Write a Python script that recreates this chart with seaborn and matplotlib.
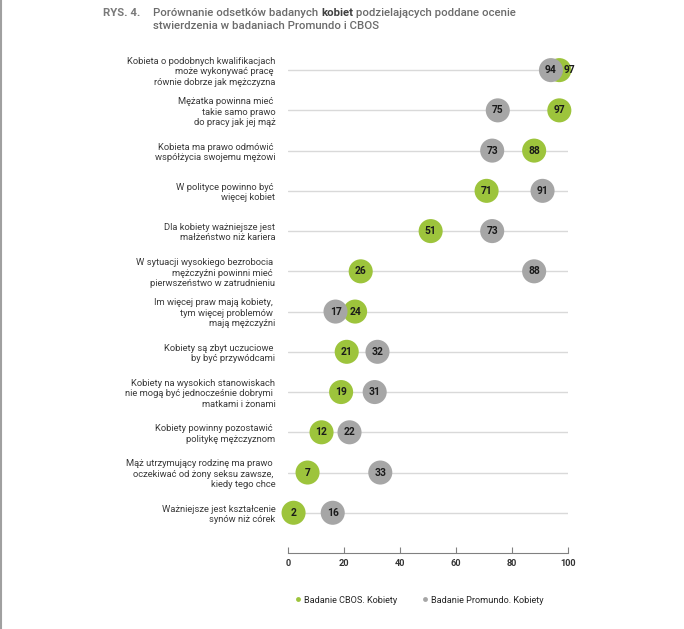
import matplotlib
matplotlib.use("Agg")
import matplotlib.pyplot as plt
import seaborn as sns
import pandas as pd
from matplotlib.lines import Line2D

statements = [
    "Kobieta o podobnych kwalifikacjach\nmoże wykonywać pracę \nrównie dobrze jak mężczyzna",
    "Mężatka powinna mieć \ntakie samo prawo\ndo pracy jak jej mąż",
    "Kobieta ma prawo odmówić \nwspółżycia swojemu mężowi",
    "W polityce powinno być \nwięcej kobiet",
    "Dla kobiety ważniejsze jest\nmałżeństwo niż kariera",
    "W sytuacji wysokiego bezrobocia \nmężczyźni powinni mieć \npierwszeństwo w zatrudnieniu",
    "Im więcej praw mają kobiety, \ntym więcej problemów \nmają mężczyźni",
    "Kobiety są zbyt uczuciowe \nby być przywódcami",
    "Kobiety na wysokich stanowiskach\nnie mogą być jednocześnie dobrymi \nmatkami i żonami",
    "Kobiety powinny pozostawić \npolitykę mężczyznom",
    "Mąż utrzymujący rodzinę ma prawo \noczekiwać od żony seksu zawsze, \nkiedy tego chce",
    "Ważniejsze jest kształcenie\nsynów niż córek",
]
cbos = [97, 97, 88, 71, 51, 26, 24, 21, 19, 12, 7, 2]
promundo = [94, 75, 73, 91, 73, 88, 17, 32, 31, 22, 33, 16]
series_names = ["Badanie CBOS. Kobiety", "Badanie Promundo. Kobiety"]
x_ticks = [0, 20, 40, 60, 80, 100]

green = "#9dc43c"
gray = "#a6a6a6"

rows = []
for i, s in enumerate(statements):
    rows.append({"pos": i, "stmt": s, "value": cbos[i], "series": series_names[0]})
for i, s in enumerate(statements):
    rows.append({"pos": i, "stmt": s, "value": promundo[i], "series": series_names[1]})
df = pd.DataFrame(rows)

sns.set_style("white")
plt.rcParams["font.family"] = ["Roboto", "DejaVu Sans"]

fig = plt.figure(figsize=(6.84, 6.29), dpi=100)
ax = fig.add_axes([0.421, 0.1208, 0.409, 0.7997])

sns.scatterplot(data=df, x="value", y="pos", hue="series",
                palette=[green, gray], s=300, linewidth=0,
                legend=False, ax=ax, zorder=3, clip_on=False)

# value labels inside the circles
for _, r in df.iterrows():
    dx = 0
    if r["pos"] == 0 and r["series"] == series_names[0]:
        dx = 7  # overlapping pair: shift the CBOS label to the right
    ax.annotate(str(r["value"]), (r["value"], r["pos"]), xytext=(dx, 0),
                textcoords="offset points", ha="center", va="center",
                fontsize=7.4, fontweight="bold", color="#1a1a1a", zorder=4)

ax.set_xlim(0, 100)
ax.set_ylim(12, -0.5)
ax.set_xticks(x_ticks)
ax.set_xticklabels([str(t) for t in x_ticks], fontsize=6.6,
                   fontweight="bold", color="#333333")
ax.set_yticks(range(len(statements)))
ax.set_yticklabels(statements, fontsize=6.75, color="#3a3a3a",
                   ha="right", linespacing=1.2)
ax.tick_params(axis="y", length=0, pad=9)
ax.tick_params(axis="x", direction="in", length=4, width=0.8,
               color="#808080", pad=4, bottom=True)

ax.grid(False)
ax.yaxis.grid(True, color="#d9d9d9", linewidth=1)
ax.set_axisbelow(True)
for side in ["top", "right", "left"]:
    ax.spines[side].set_visible(False)
ax.spines["bottom"].set_color("#808080")
ax.spines["bottom"].set_linewidth(0.8)
ax.set_xlabel("")
ax.set_ylabel("")

# title
fig.text(0.151, 0.987, "RYS. 4.", fontsize=8.2, fontweight="bold",
         color="#7a7a7a", va="top")
t1 = fig.text(0.224, 0.987, "Porównanie odsetków badanych ", fontsize=8.2,
              fontweight="medium", color="#6b6b6b", va="top")
t2 = ax.annotate("kobiet", xy=(1, 0), xycoords=t1, va="bottom",
                 fontsize=8.2, fontweight="bold", color="#404040")
ax.annotate(" podzielających poddane ocenie", xy=(1, 0), xycoords=t2,
            va="bottom", fontsize=8.2, fontweight="medium", color="#6b6b6b")
fig.text(0.224, 0.966, "stwierdzenia w badaniach Promundo i CBOS", fontsize=8.2,
         fontweight="medium", color="#6b6b6b", va="top")

# legend
handles = [Line2D([], [], marker="o", linestyle="", markersize=3.5,
                  markerfacecolor=c, markeredgewidth=0) for c in [green, gray]]
fig.legend(handles, series_names, loc="center", bbox_to_anchor=(0.612, 0.046),
           ncol=2, frameon=False, fontsize=6.6, handletextpad=0.1,
           columnspacing=2.6, handlelength=1.0, labelcolor="#262626")

# gray rule on the left page edge
fig.add_artist(Line2D([0.002, 0.002], [0, 1], color="#a0a0a0", linewidth=1.5,
                      transform=fig.transFigure))

fig.savefig("out.png", dpi=100)
